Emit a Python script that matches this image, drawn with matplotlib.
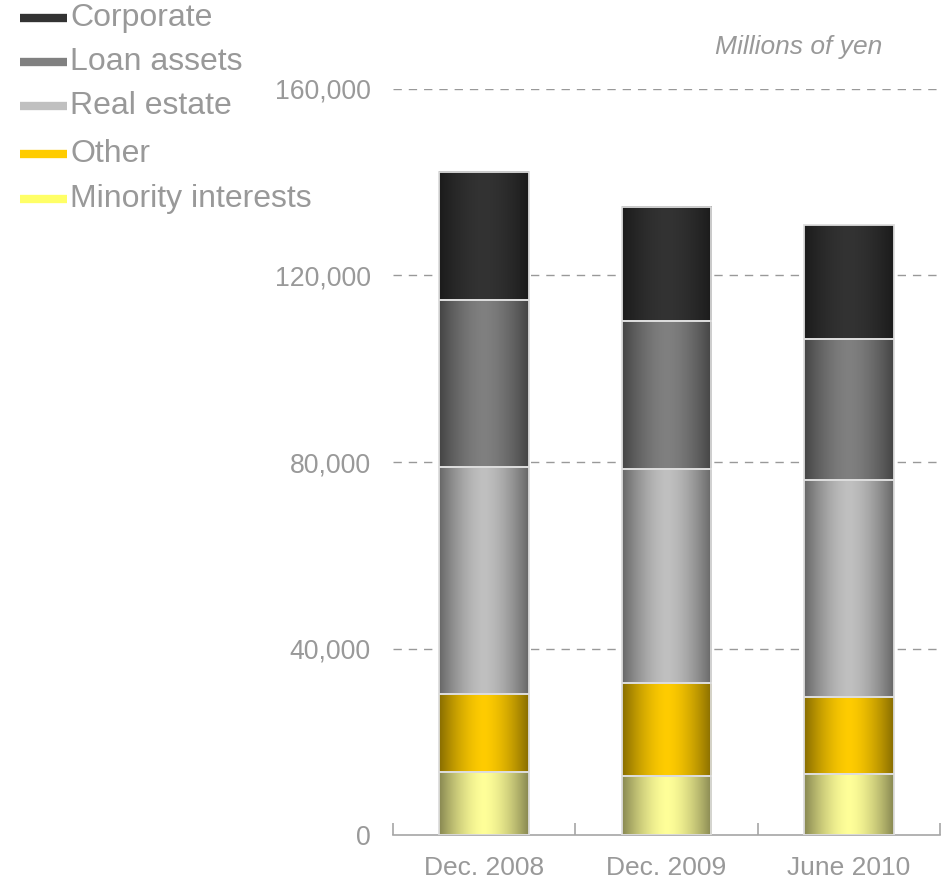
#importing Libraries
import numpy as np
import matplotlib
matplotlib.use("Agg")
import matplotlib.pyplot as plt
from matplotlib.lines import Line2D
from matplotlib.patches import Rectangle
from matplotlib.colors import to_rgb

# data (millions of yen)
periods = ["Dec. 2008", "Dec. 2009", "June 2010"]
series_names = ["Minority interests", "Other", "Real estate", "Loan assets", "Corporate"]
minority = [13500, 12700, 13100]
other = [16700, 19900, 16500]
real_estate = [48700, 45900, 46500]
loan_assets = [35800, 31700, 30300]
corporate = [27500, 24500, 24400]
y_ticks = [0, 40000, 80000, 120000, 160000]

# colours of each series (centre colour of the shaded bar)
colors = ["#ffff99", "#ffcc00", "#c0c0c0", "#808080", "#333333"]
legend_colors = ["#ffff66", "#ffcc00", "#c0c0c0", "#808080", "#333333"]

plt.rcParams['font.family'] = ['Liberation Sans', 'DejaVu Sans']
grey = "#999999"

fig = plt.figure(figsize=(9.51, 8.8), dpi=100)
ax = fig.add_axes([393/951, 45/880, 547/951, 746/880])

values = [minority, other, real_estate, loan_assets, corporate]
width = 0.49

# horizontal shading: dark at the edges, light in the middle
t = np.linspace(-1, 1, 200)
shade = 1 - 0.47 * np.abs(t) ** 1.6

bottoms = np.zeros(len(periods))
for vals, col in zip(values, colors):
    rgb = np.array(to_rgb(col))
    img = (shade[:, None] * rgb[None, :])[None, :, :]
    for i, v in enumerate(vals):
        x0 = i - width / 2
        ax.imshow(img, extent=(x0, x0 + width, bottoms[i], bottoms[i] + v),
                  aspect='auto', interpolation='bilinear', zorder=2)
        ax.add_patch(Rectangle((x0, bottoms[i]), width, v, fill=False,
                               edgecolor="#dddddd", linewidth=1.3, zorder=3))
    bottoms += np.array(vals)

ax.set_xlim(-0.5, 2.5)
ax.set_ylim(0, 160000)

# grid and axes styling
for yv in y_ticks[1:]:
    ax.axhline(yv, color=grey, linewidth=1, linestyle=(0, (6, 5)), zorder=1)

for s in ["left", "right", "top"]:
    ax.spines[s].set_visible(False)
ax.spines["bottom"].set_color("#a6a6a6")
ax.spines["bottom"].set_linewidth(1.2)

ax.set_yticks(y_ticks)
ax.set_yticklabels([f"{v:,}" for v in y_ticks])
ax.tick_params(axis='y', length=0, pad=16, labelsize=19.2, labelcolor=grey)

ax.set_xticks(range(len(periods)))
ax.set_xticklabels(periods)
ax.tick_params(axis='x', which='major', length=0, pad=15, labelsize=19,
               labelcolor=grey)
ax.set_xticks([-0.5, 0.5, 1.5, 2.5], minor=True)
ax.tick_params(axis='x', which='minor', direction='in', length=9,
               width=1.2, color="#a6a6a6")

# unit note
fig.text(799/951, 1 - 47/880, "Millions of yen", fontsize=19, style='italic',
         color=grey, ha='center', va='center')

# legend drawn by hand, top left
rows = [199, 154, 106, 62, 18]
for name, col, yp in zip(series_names, legend_colors, rows):
    yf = 1 - yp / 880
    fig.add_artist(Line2D([20/951, 67/951], [yf, yf], color=col,
                          linewidth=6, solid_capstyle='butt'))
    fig.text(70/951, yf, name, fontsize=23, color=grey, ha='left',
             va='center')

fig.savefig("out.png", dpi=100)
